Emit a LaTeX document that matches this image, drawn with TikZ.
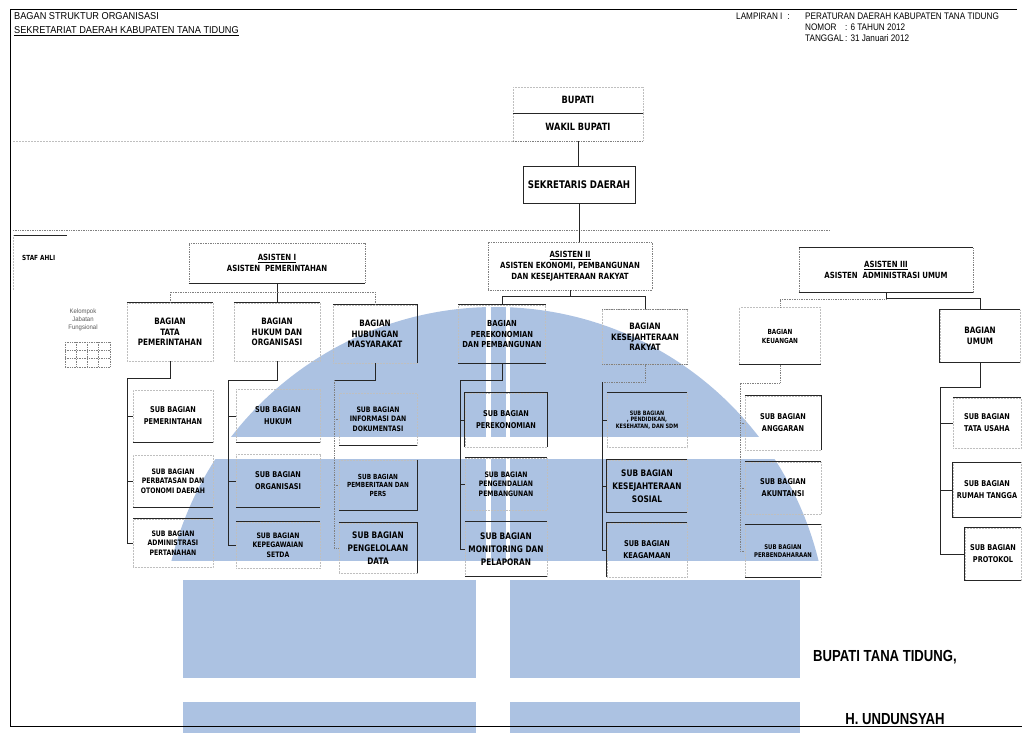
\documentclass[tikz,border=0pt]{standalone}
\usepackage{fontspec}
\setmainfont{Liberation Sans}
\newfontfamily\boxfont[FakeStretch=0.82]{DejaVu Sans}
\newfontfamily\headfont[FakeStretch=0.92]{Liberation Sans}
\newfontfamily\lampfont[FakeStretch=0.86]{Liberation Sans}
\newfontfamily\signfont[FakeStretch=0.82]{Liberation Sans}
\definecolor{wmblue}{RGB}{172,194,226}

\begin{document}
\begin{tikzpicture}
[x=1pt,y=-1pt,
sol/.style={draw=black!85,line width=0.9pt},
dotl/.style={draw=black!50,densely dotted,line width=0.7pt},
faint/.style={draw=black!25,densely dotted,line width=0.5pt},
box/.style={rectangle,inner sep=0pt,align=center,font=\boxfont\bfseries\fontsize{8}{12}\selectfont},
subbox/.style={box,faint,minimum width=80pt,minimum height=52pt},
sub3/.style={font=\boxfont\bfseries\fontsize{7.5}{9.5}\selectfont},
subbig/.style={font=\boxfont\bfseries\fontsize{9}{13}\selectfont},
bagbox/.style={box,faint,minimum height=58pt,font=\boxfont\bfseries\fontsize{8.8}{10.5}\selectfont},
asbox/.style={box,dotl,font=\boxfont\bfseries\fontsize{8.5}{11}\selectfont},
hd/.style={anchor=west,inner sep=0pt,font=\headfont\fontsize{10}{12}\selectfont},
hdr/.style={hd,font=\lampfont\fontsize{9.5}{11}\selectfont},
]
\useasboundingbox (0,0) rectangle (1022,733);

% watermark
\begin{scope}
\clip (100,300) rectangle (900,560);
\fill[wmblue] (495,640) circle (333pt);
\end{scope}
\fill[white] (100,437) rectangle (900,459);
\fill[white] (486,300) rectangle (491,560);
\fill[white] (506,300) rectangle (510,560);
\fill[wmblue] (183,580) rectangle (476,678);
\fill[wmblue] (510,580) rectangle (800,678);
\fill[wmblue] (183,702) rectangle (476,733);
\fill[wmblue] (510,702) rectangle (800,733);

% frame
\draw[line width=1pt] (1017,10) -- (10,10) -- (10,726) -- (1022,726);

% header
\node[hd] (hd1) at (14,16) {BAGAN STRUKTUR ORGANISASI};
\node[hd] (hd2) at (14,31) {\underline{SEKRETARIAT DAERAH KABUPATEN TANA TIDUNG}};
\node[hdr] (lamp) at (736,16) {LAMPIRAN I\enspace:};
\node[hdr] (perda) at (805,16) {PERATURAN DAERAH KABUPATEN TANA TIDUNG};
\node[hdr] (nomor) at (805,27) {\makebox[40pt][l]{NOMOR}: 6 TAHUN 2012};
\node[hdr] (tgl) at (805,38) {\makebox[40pt][l]{TANGGAL}: 31 Januari 2012};

% pimpinan
\node [box,minimum width=130pt,minimum height=26pt,font=\boxfont\bfseries\fontsize{10}{12}\selectfont] (bup) at (578,100){BUPATI};
\node [box,minimum width=130pt,minimum height=28pt,font=\boxfont\bfseries\fontsize{10}{12}\selectfont] (wak) at (578,127){WAKIL BUPATI};
\node [box,sol,minimum width=112pt,minimum height=37pt,font=\boxfont\bfseries\fontsize{10.5}{12}\selectfont] (sek) at (579,185){SEKRETARIS DAERAH};
\draw[faint] (bup.south west) -- (bup.north west) -- (bup.north east) -- (bup.south east);
\draw[faint] (wak.north west) -- (wak.south west);
\draw[faint] (wak.north east) -- (wak.south east);
\draw[sol] (bup.south west) -- (bup.south east);
\draw[dotl] (wak.south west) -- (wak.south east);

% staf ahli
\node [anchor=west,inner sep=0pt,font=\boxfont\bfseries\fontsize{7}{8}\selectfont] (staf) at (22,258){STAF AHLI};
\coordinate (stafTL) at (13,235);
\coordinate (stafR) at (830,230);
\draw[sol] (stafTL) -- ++(54,0);
\draw[faint] (stafTL) -- ++(0,55);
\draw[dotl] (stafTL |- stafR) -- (stafR);
\draw[faint] (wak.south west) -- (wak.south west -| stafTL);

% asisten
\node [asbox,minimum width=176pt,minimum height=40pt] (as1) at (277,263){\underline{ASISTEN I}\\ASISTEN\ \ PEMERINTAHAN};
\node [asbox,minimum width=164pt,minimum height=48pt] (as2) at (570,266){\underline{ASISTEN II}\\ASISTEN EKONOMI, PEMBANGUNAN\\DAN KESEJAHTERAAN RAKYAT};
\node [asbox,minimum width=174pt,minimum height=45pt] (as3) at (886,270){\underline{ASISTEN III}\\ASISTEN\ \ ADMINISTRASI UMUM};
\draw[sol] (as1.south west) -- (as1.south east);
\draw[sol] (as3.north west) -- (as3.north east);
\draw[sol] (as3.south west) -- (as3.south east);

\draw[sol] (wak.south) -- (wak.south |- sek.north);
\draw[sol] (sek.south) -- (sek.south |- as2.north);

% bagian
\node [bagbox,minimum width=86pt] (btp) at (170,332){BAGIAN\\TATA\\PEMERINTAHAN};
\node [bagbox,minimum width=86pt] (bho) at (277,332){BAGIAN\\HUKUM DAN\\ORGANISASI};
\node [bagbox,minimum width=84pt] (bhm) at (375,334){BAGIAN\\HUBUNGAN\\MASYARAKAT};
\node [bagbox,minimum width=87pt,font=\boxfont\bfseries\fontsize{8.3}{10.5}\selectfont] (bpp) at (502,334){BAGIAN\\PEREKONOMIAN\\DAN PEMBANGUNAN};
\node [bagbox,minimum width=85pt,minimum height=55pt] (bkr) at (645,337){BAGIAN\\KESEJAHTERAAN\\RAKYAT};
\node [bagbox,minimum width=81pt,minimum height=57pt,font=\boxfont\bfseries\fontsize{7}{9}\selectfont] (bku) at (780,336){BAGIAN\\KEUANGAN};
\node [bagbox,minimum width=80pt,minimum height=53pt] (bum) at (980,336){BAGIAN\\UMUM};
\draw[sol] (btp.north west) -- (btp.north east);
\draw[sol] (bho.north west) -- (bho.north east);
\draw[sol] (bhm.north west) -- (bhm.north east) -- (bhm.south east);
\draw[sol] (bpp.north west) -- (bpp.north east);
\draw[sol] (bpp.south west) -- (bpp.south east);
\draw[dotl] (bkr.north west) -- (bkr.north east);
\draw[dotl] (bkr.south west) -- (bkr.south east);
\draw[sol] (bku.south west) -- (bku.south east);
\draw[sol] (bum.north east) -- (bum.north west) -- (bum.south west) -- (bum.south east);

\coordinate (j1) at (277,292);
\draw[sol] (as1.south) -- (bho.north);
\draw[dotl] (btp.north) |- (j1) -| (bhm.north);
\path (as2.south) ++(0,6) coordinate (j2);
\draw[sol] (as2.south) -- (j2);
\draw[sol] (bpp.north) |- (j2) -| (bkr.north);
\path (as3.south) ++(0,6) coordinate (j3);
\draw[sol] (as3.south) -- (j3);
\draw[dotl] (bku.north) |- (j3);
\draw[sol] (j3) -| (bum.north);

% sub bagian
\node [subbox] (s11) at (173,416){SUB BAGIAN\\PEMERINTAHAN};
\node [subbox,sub3] (s12) at (173,481){SUB BAGIAN\\PERBATASAN DAN\\OTONOMI DAERAH};
\node [subbox,sub3,minimum height=48pt] (s13) at (173,543){SUB BAGIAN\\ADMINISTRASI\\PERTANAHAN};
\node [subbox,minimum width=84pt,minimum height=53pt] (s21) at (278,416){SUB BAGIAN\\HUKUM};
\node [subbox,minimum width=84pt,minimum height=53pt] (s22) at (278,481){SUB BAGIAN\\ORGANISASI};
\node [subbox,sub3,minimum width=84pt,minimum height=46pt] (s23) at (278,545){SUB BAGIAN\\KEPEGAWAIAN\\SETDA};
\node [subbox,sub3,minimum width=78pt] (s31) at (378,419){SUB BAGIAN\\INFORMASI DAN\\DOKUMENTASI};
\node [subbox,minimum width=78pt,minimum height=50pt,font=\boxfont\bfseries\fontsize{7}{8.5}\selectfont] (s32) at (378,485){SUB BAGIAN\\PEMBERITAAN DAN\\PERS};
\node [subbox,subbig,minimum width=78pt,minimum height=50pt] (s33) at (378,548){SUB BAGIAN\\PENGELOLAAN\\DATA};
\node [subbox,minimum width=82pt,minimum height=54pt] (s41) at (506,420){SUB BAGIAN\\PEREKONOMIAN};
\node [subbox,sub3,minimum width=82pt] (s42) at (506,484){SUB BAGIAN\\PENGENDALIAN\\PEMBANGUNAN};
\node [subbox,subbig,minimum width=82pt,minimum height=55pt] (s43) at (506,549){SUB BAGIAN\\MONITORING DAN\\PELAPORAN};
\node [subbox,minimum height=55pt,font=\boxfont\bfseries\fontsize{6}{6.5}\selectfont] (s51) at (647,420){SUB BAGIAN\\, PENDIDIKAN,\\KESEHATAN, DAN SDM};
\node [subbox,subbig] (s52) at (647,486){SUB BAGIAN\\KESEJAHTERAAN\\SOSIAL};
\node [subbox,minimum height=54pt] (s53) at (647,550){SUB BAGIAN\\KEAGAMAAN};
\node [subbox,minimum width=76pt,minimum height=54pt] (s61) at (783,423){SUB BAGIAN\\ANGGARAN};
\node [subbox,minimum width=76pt] (s62) at (783,488){SUB BAGIAN\\AKUNTANSI};
\node [subbox,minimum width=76pt,minimum height=53pt,font=\boxfont\bfseries\fontsize{6.5}{8}\selectfont] (s63) at (783,551){SUB BAGIAN\\PERBENDAHARAAN};
\node [subbox,minimum width=68pt,minimum height=50pt] (s71) at (987,423){SUB BAGIAN\\TATA USAHA};
\node [subbox,minimum width=68pt,minimum height=55pt] (s72) at (987,490){SUB BAGIAN\\RUMAH TANGGA};
\node [subbox,minimum width=56pt] (s73) at (993,554){SUB BAGIAN\\PROTOKOL};

\draw[sol] (s11.south west) -- (s11.south east);
\draw[sol] (s12.south west) -- (s12.south east);
\draw[sol] (s13.north west) -- (s13.north east);
\draw[sol] (s21.south west) -- (s21.south east);
\draw[sol] (s22.south west) -- (s22.south east);
\draw[sol] (s23.north west) -- (s23.north east);
\draw[sol] (s31.south west) -- (s31.south east);
\draw[sol] (s32.north east) -- (s32.south east) -- (s32.south west);
\draw[sol] (s33.north west) -- (s33.north east) -- (s33.south east);
\draw[sol] (s41.south west) -- (s41.north west) -- (s41.north east) -- (s41.south east);
\draw[sol] (s42.north west) -- (s42.north east);
\draw[sol] (s43.north west) -- (s43.north east);
\draw[sol] (s43.south west) -- (s43.south east);
\draw[sol] (s51.north west) -- (s51.north east);
\draw[sol] (s52.north east) -- (s52.north west) -- (s52.south west) -- (s52.south east);
\draw[sol] (s53.north east) -- (s53.north west) -- (s53.south west);
\draw[sol] (s61.north west) -- (s61.north east) -- (s61.south east);
\draw[sol] (s62.north west) -- (s62.north east);
\draw[sol] (s63.north west) -- (s63.north east);
\draw[sol] (s63.south west) -- (s63.south east);
\draw[sol] (s71.north west) -- (s71.north east);
\draw[sol] (s72.north east) -- (s72.north west) -- (s72.south west) -- (s72.south east);
\draw[sol] (s73.north east) -- (s73.north west) -- (s73.south west) -- (s73.south east);

\coordinate (c1) at (127,378);
\coordinate (c2) at (228,380);
\coordinate (c3) at (334,380);
\coordinate (c4) at (460,380);
\coordinate (c5) at (602,382);
\coordinate (c6) at (740,383);
\coordinate (c7) at (940,387);
\draw[sol] (btp.south) |- (c1) |- (s13.west);
\draw[sol] (c1 |- s11.west) -- (s11.west);
\draw[sol] (c1 |- s12.west) -- (s12.west);
\draw[sol] (bho.south) |- (c2) |- (s23.west);
\draw[sol] (c2 |- s21.west) -- (s21.west);
\draw[sol] (c2 |- s22.west) -- (s22.west);
\draw[sol] (bhm.south) |- (c3);
\draw[dotl] (c3) |- (s33.west);
\draw[dotl] (c3 |- s31.west) -- (s31.west);
\draw[dotl] (c3 |- s32.west) -- (s32.west);
\draw[sol] (bpp.south) |- (c4) |- (s43.west);
\draw[sol] (c4 |- s41.west) -- (s41.west);
\draw[sol] (c4 |- s42.west) -- (s42.west);
\draw[dotl] (bkr.south) |- (c5);
\draw[sol] (c5) |- (s53.west);
\draw[sol] (c5 |- s51.west) -- (s51.west);
\draw[sol] (c5 |- s52.west) -- (s52.west);
\draw[dotl] (bku.south) |- (c6) |- (s63.west);
\draw[dotl] (c6 |- s61.west) -- (s61.west);
\draw[dotl] (c6 |- s62.west) -- (s62.west);
\draw[sol] (bum.south) |- (c7) |- (s73.west);
\draw[sol] (c7 |- s71.west) -- (s71.west);
\draw[sol] (c7 |- s72.west) -- (s72.west);

% kelompok jabatan fungsional
\node [align=center,inner sep=0pt,text=black!65,font=\headfont\fontsize{6.5}{8}\selectfont] (kjf) at (83,320){Kelompok\\Jabatan\\Fungsional};
\foreach \gx in {65,76,87,98,110} \draw[dotl] (\gx,342) -- (\gx,367);
\foreach \gy in {342,350,358,367} \draw[dotl] (65,\gy) -- (110,\gy);

% tanda tangan
\node [anchor=west,inner sep=0pt,font=\signfont\bfseries\fontsize{16}{18}\selectfont] (ttd) at (813,657){BUPATI TANA TIDUNG,};
\node [inner sep=0pt,font=\signfont\bfseries\fontsize{16}{18}\selectfont] (nama) at (895,719){H. UNDUNSYAH};
\end{tikzpicture}
\end{document}
